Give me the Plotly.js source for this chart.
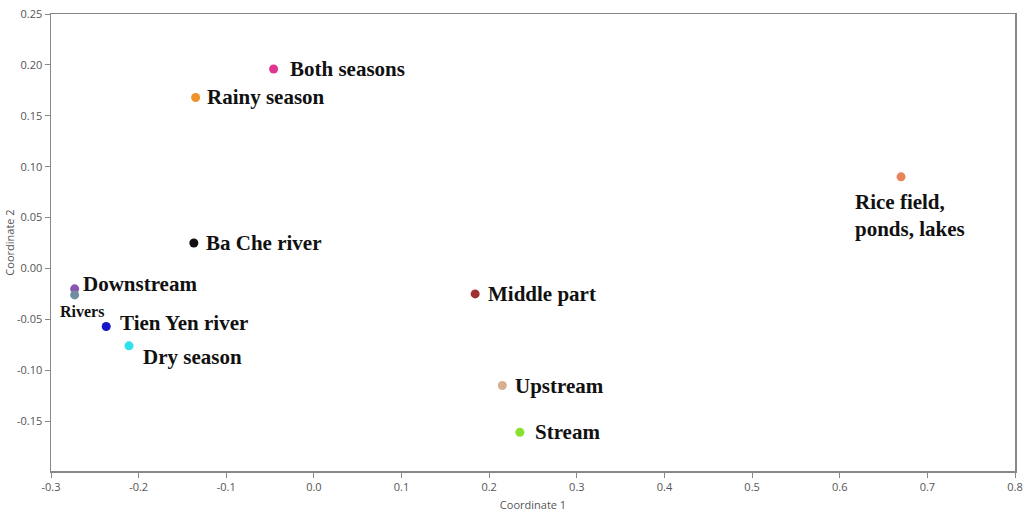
<!DOCTYPE html>
<html>
<head>
<meta charset="utf-8">
<script src="https://cdn.plot.ly/plotly-3.0.1.min.js"></script>
<style>html,body{margin:0;padding:0;background:#fff;}#chart{width:1023px;height:513px;}</style>
</head>
<body>
<div id="chart"></div>
<script>
const labels = ["Both seasons","Rainy season","Rice field,<br>ponds, lakes","Ba Che river","Downstream","Rivers","Middle part","Tien Yen river","Dry season","Upstream","Stream"];
const coord1 = [-0.046,-0.135,0.670,-0.137,-0.273,-0.273,0.184,-0.237,-0.211,0.215,0.235];
const coord2 = [0.196,0.168,0.090,0.025,-0.020,-0.026,-0.025,-0.057,-0.076,-0.115,-0.161];
const colors = ["#e0358f","#f0922a","#e8845a","#111111","#8a55b0","#6f8fa0","#a03030","#1515c8","#30e0ea","#d8b090","#88e030"];
const xTicks = [-0.3,-0.2,-0.1,0.0,0.1,0.2,0.3,0.4,0.5,0.6,0.7,0.8];
const xTickText = ["-0.3","-0.2","-0.1","0.0","0.1","0.2","0.3","0.4","0.5","0.6","0.7","0.8"];
const yTicks = [-0.15,-0.10,-0.05,0.00,0.05,0.10,0.15,0.20,0.25];
const yTickText = ["-0.15","-0.10","-0.05","0.00","0.05","0.10","0.15","0.20","0.25"];

// label placement style per point: [xanchor, yanchor, xshift, yshift, fontsize]
const place = [
  ["left","middle",14,0,21],
  ["left","middle",9,0,21],
  ["center","top",9,-11,21],
  ["left","middle",10,0,21],
  ["left","middle",6,5,21],
  ["center","top",7,-6,16],
  ["left","middle",11,0,21],
  ["left","middle",12,3,21],
  ["left","middle",12,-11,21],
  ["left","middle",11,0,21],
  ["left","middle",13,0,21]
];

const trace = {
  x: coord1, y: coord2, mode: "markers", type: "scatter",
  marker: {color: colors, size: 9},
  hoverinfo: "skip", showlegend: false
};

const annotations = labels.map((t,i)=>({
  x: coord1[i], y: coord2[i], xref:"x", yref:"y", text: "<b>"+t+"</b>", showarrow:false,
  xanchor: place[i][0], yanchor: place[i][1], xshift: place[i][2], yshift: place[i][3],
  align: "left",
  font: {family: "Liberation Serif, Times New Roman, serif", size: place[i][4], color: "#111"}
}));

const layout = {
  width: 1023, height: 513,
  margin: {l:51, r:8, t:14, b:42},
  paper_bgcolor: "#fff", plot_bgcolor: "#fff",
  font: {family: "Open Sans, DejaVu Sans, sans-serif", size: 11, color: "#555"},
  xaxis: {
    range: [-0.3, 0.8], tickvals: xTicks, ticktext: xTickText,
    showgrid: false, zeroline: false, showline: true, linecolor: "#888", linewidth: 1.5, mirror: true,
    ticks: "outside", ticklen: 5, tickcolor: "#888",
    title: {text: "Coordinate 1", font: {size: 11, color: "#555"}, standoff: 8}
  },
  yaxis: {
    range: [-0.199, 0.25], tickvals: yTicks, ticktext: yTickText,
    showgrid: false, zeroline: false, showline: true, linecolor: "#888", linewidth: 1.5, mirror: true,
    ticks: "outside", ticklen: 5, tickcolor: "#888",
    title: {text: "Coordinate 2", font: {size: 11, color: "#555"}, standoff: 0}
  },
  annotations: annotations
};

Plotly.newPlot("chart", [trace], layout, {displayModeBar: false, staticPlot: true});
</script>
</body>
</html>
